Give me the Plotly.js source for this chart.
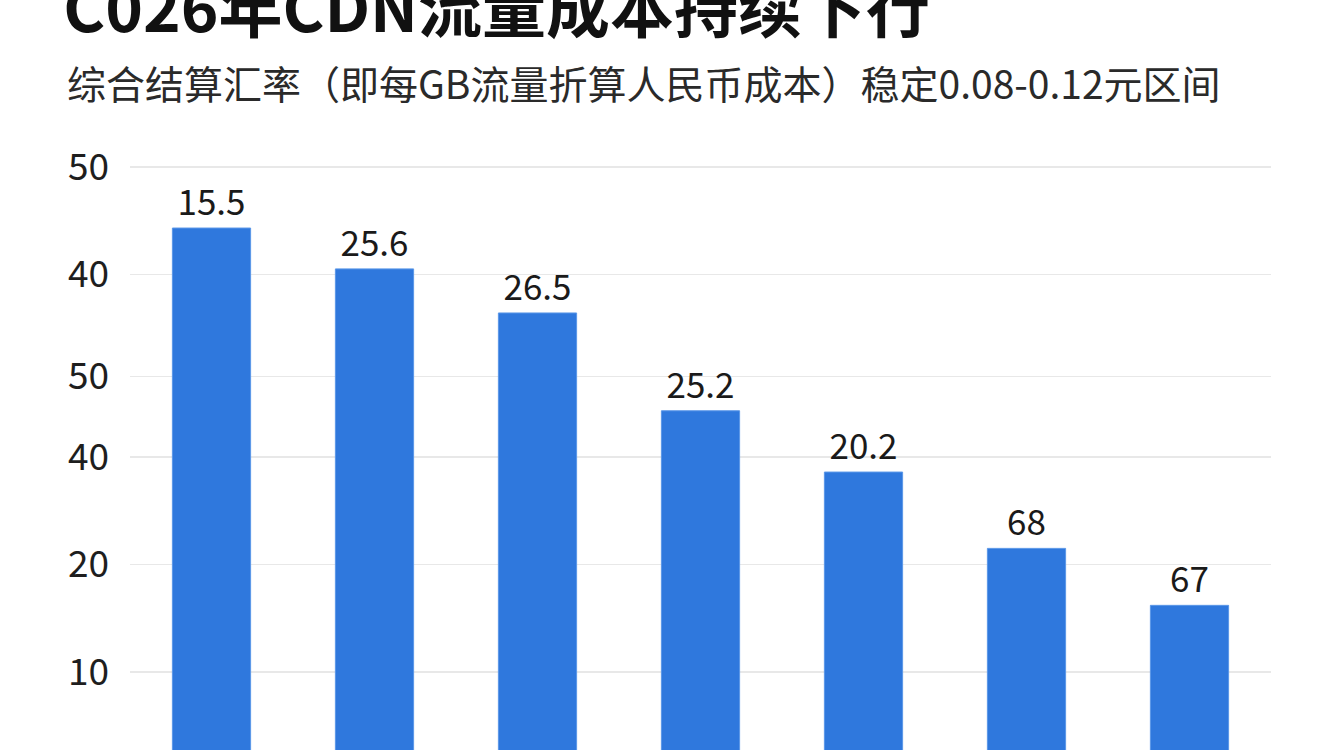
<!DOCTYPE html>
<html>
<head>
<meta charset="utf-8">
<script src="https://cdn.plot.ly/plotly-3.0.1.min.js"></script>
<style>
  html, body { margin: 0; padding: 0; background: #ffffff; }
  #chart { width: 1344px; height: 750px; }
</style>
</head>
<body>
<div id="chart"></div>
<script>
// categories (no visible x labels in the picture)
var categories = ['c1', 'c2', 'c3', 'c4', 'c5', 'c6', 'c7'];
// bar heights read against the axis, and the labels printed above them
var barValues = [51.3, 47.5, 43.4, 34.3, 28.6, 21.5, 16.2];
var barLabels = ['15.5', '25.6', '26.5', '25.2', '20.2', '68', '67'];
// y axis ticks as drawn (labels are not in order in the source)
var tickPositions = [10, 20, 30, 37.5, 47, 57];
var tickLabels = ['10', '20', '40', '50', '40', '50'];

var titleText = 'C026年CDN流量成本持续下行';
var subtitleText = '综合结算汇率（即每GB流量折算人民币成本）稳定0.08-0.12元区间';

var font = '"Noto Sans CJK SC", "Noto Sans", sans-serif';

var trace = {
  x: categories,
  y: barValues,
  text: barLabels,
  type: 'bar',
  textposition: 'outside',
  textfont: {family: font, size: 35, color: '#1a1a1a'},
  cliponaxis: false,
  marker: {color: '#2f78dd', line: {color: '#5a97e8', width: 1}},
  hoverinfo: 'none'
};

var layout = {
  width: 1344,
  height: 750,
  paper_bgcolor: '#ffffff',
  plot_bgcolor: '#ffffff',
  showlegend: false,
  bargap: 0.52,
  margin: {l: 130, r: 73, t: 140, b: 0, pad: 0},
  title: {
    text: '<b>' + titleText + '</b>',
    font: {family: font, size: 64, color: '#111111'},
    xref: 'container', x: 0.047, xanchor: 'left',
    yref: 'container', y: 0.987, yanchor: 'middle'
  },
  annotations: [{
    text: subtitleText,
    xref: 'paper', yref: 'paper',
    x: -0.057, y: 1.095,
    xanchor: 'left', yanchor: 'middle',
    showarrow: false,
    font: {family: font, size: 39, color: '#2a2a2a'}
  }],
  xaxis: {
    showticklabels: false,
    showgrid: false,
    zeroline: false,
    showline: false,
    ticks: ''
  },
  yaxis: {
    range: [2.744, 59.49],
    tickmode: 'array',
    tickvals: tickPositions,
    ticktext: tickLabels,
    ticks: '',
    ticklabelstandoff: 20,
    tickfont: {family: font, size: 37, color: '#1e1e1e'},
    showgrid: true,
    gridcolor: '#e8e8e8',
    gridwidth: 1.5,
    zeroline: false,
    showline: false
  }
};

var config = {displayModeBar: false, staticPlot: true};

Plotly.newPlot('chart', [trace], layout, config);
</script>
</body>
</html>
